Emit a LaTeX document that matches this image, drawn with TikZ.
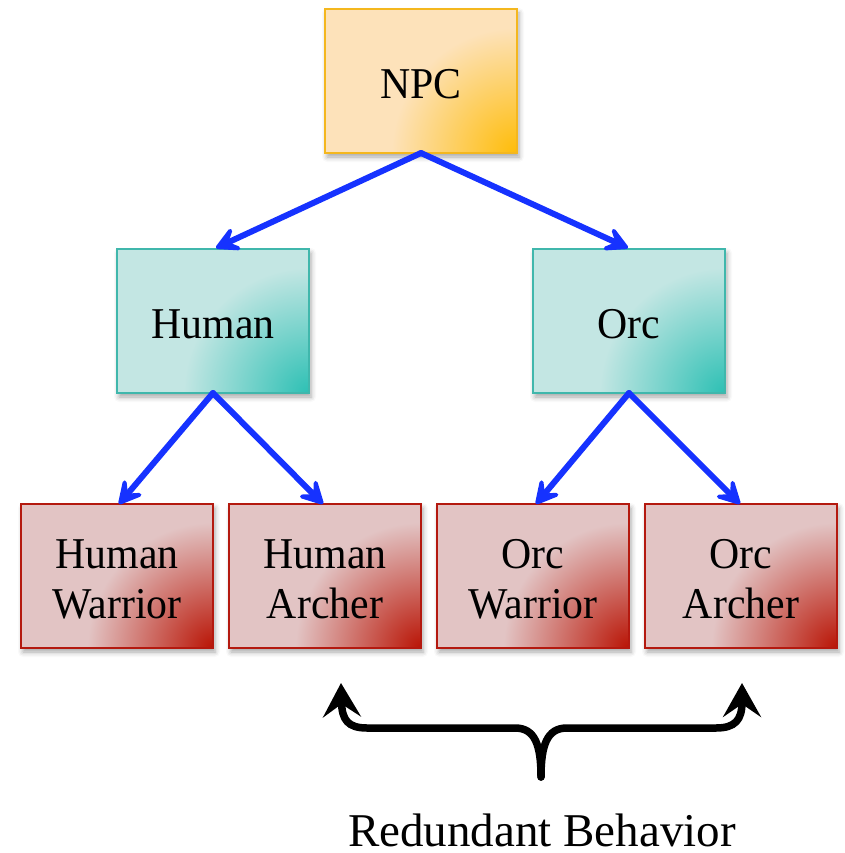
\documentclass[tikz,border=0pt]{standalone}
\usepackage{fontspec}
\setmainfont{Liberation Serif}
\newfontfamily\boxfont[FakeStretch=0.95]{Liberation Serif}
\usetikzlibrary{arrows.meta,shadows.blur}

\definecolor{npcBase}{RGB}{253,226,186}
\definecolor{npcCorner}{RGB}{254,188,8}
\definecolor{npcBorder}{RGB}{244,183,30}
\definecolor{raceBase}{RGB}{195,230,227}
\definecolor{raceCorner}{RGB}{45,192,180}
\definecolor{raceBorder}{RGB}{64,183,172}
\definecolor{unitBase}{RGB}{226,196,196}
\definecolor{unitCorner}{RGB}{185,20,5}
\definecolor{unitBorder}{RGB}{180,25,15}
\definecolor{linkBlue}{RGB}{22,50,255}

% corner glows, centred on the lower right corner of each box
\pgfdeclareradialshading{npcGlow}{\pgfpoint{0bp}{0bp}}%
  {color(0bp)=(npcCorner); color(125bp)=(npcBase); color(300bp)=(npcBase)}
\pgfdeclareradialshading{raceGlow}{\pgfpoint{0bp}{0bp}}%
  {color(0bp)=(raceCorner); color(125bp)=(raceBase); color(300bp)=(raceBase)}
\pgfdeclareradialshading{unitGlow}{\pgfpoint{0bp}{0bp}}%
  {color(0bp)=(unitCorner); color(125bp)=(unitBase); color(300bp)=(unitBase)}

\tikzset{
  classbox/.style n args={3}{
    draw=#3, fill=#1, line width=2.5pt,
    minimum width=192pt, minimum height=144pt,
    inner sep=0pt, outer sep=0pt,
    blur shadow={shadow xshift=2pt, shadow yshift=-4pt,
                 shadow blur radius=5pt, shadow opacity=35},
    path picture={\path (path picture bounding box.south east)
      node[inner sep=0pt, outer sep=0pt] {\pgfuseshading{#2}};}
  },
  npcbox/.style={classbox={npcBase}{npcGlow}{npcBorder}},
  racebox/.style={classbox={raceBase}{raceGlow}{raceBorder}},
  unitbox/.style={classbox={unitBase}{unitGlow}{unitBorder}},
  boxtext/.style={align=center, inner sep=0pt, yshift=-3pt,
    font=\boxfont\fontsize{44}{50}\selectfont},
  inherit/.style={draw=linkBlue, line width=6pt, line cap=round,
    -{Stealth[length=32pt,width=34pt,inset=16pt,round,line width=5pt]}},
  brace/.style={draw=black, line width=7.5pt, line cap=round,
    -{Stealth[length=34pt,width=38pt,inset=13pt]}}
}

\begin{document}
\begin{tikzpicture}[x=1pt,y=-1pt]
  \useasboundingbox (0,0) rectangle (844,853);

  % class boxes
  \node[npcbox]  (npc)   at (421,81)  {};
  \node[racebox] (human) at (213,321) {};
  \node[racebox] (orc)   at (629,321) {};
  \node[unitbox] (hw) at (117,576) {};
  \node[unitbox] (ha) at (325,576) {};
  \node[unitbox] (ow) at (533,576) {};
  \node[unitbox] (oa) at (741,576) {};

  % class names
  \node[boxtext] (npcName)   at (npc)   {NPC};
  \node[boxtext] (humanName) at (human) {Human};
  \node[boxtext] (orcName)   at (orc)   {Orc};
  \node[boxtext] (hwName) at (hw) {Human\\Warrior};
  \node[boxtext] (haName) at (ha) {Human\\Archer};
  \node[boxtext] (owName) at (ow) {Orc\\Warrior};
  \node[boxtext] (oaName) at (oa) {Orc\\Archer};

  % arrow targets on the top edges
  \coordinate (humanIn) at (216,248);
  \coordinate (orcIn)   at (628,248);
  \coordinate (hwIn) at (119,504);
  \coordinate (haIn) at (323,504);
  \coordinate (owIn) at (536,504);
  \coordinate (oaIn) at (740,504);

  % inheritance arrows
  \draw[inherit] (npc.south) -- (humanIn);
  \draw[inherit] (npc.south) -- (orcIn);
  \draw[inherit] (human.south) -- (hwIn);
  \draw[inherit] (human.south) -- (haIn);
  \draw[inherit] (orc.south) -- (owIn);
  \draw[inherit] (orc.south) -- (oaIn);

  % brace pointing at both archers
  \coordinate (cusp) at (541,777);
  \coordinate (leftTip)  at (341,683);
  \coordinate (rightTip) at (742,683);
  \draw[brace] (cusp) .. controls (541,745) and (535,728) .. (515,728)
    -- (367,728) .. controls (348,728) and (342,720) .. (leftTip);
  \draw[brace] (cusp) .. controls (541,745) and (547,728) .. (567,728)
    -- (716,728) .. controls (735,728) and (742,720) .. (rightTip);

  \node[font=\fontsize{47}{50}\selectfont, anchor=base, inner sep=0pt]
    (note) at (542,846) {Redundant Behavior};
\end{tikzpicture}
\end{document}
